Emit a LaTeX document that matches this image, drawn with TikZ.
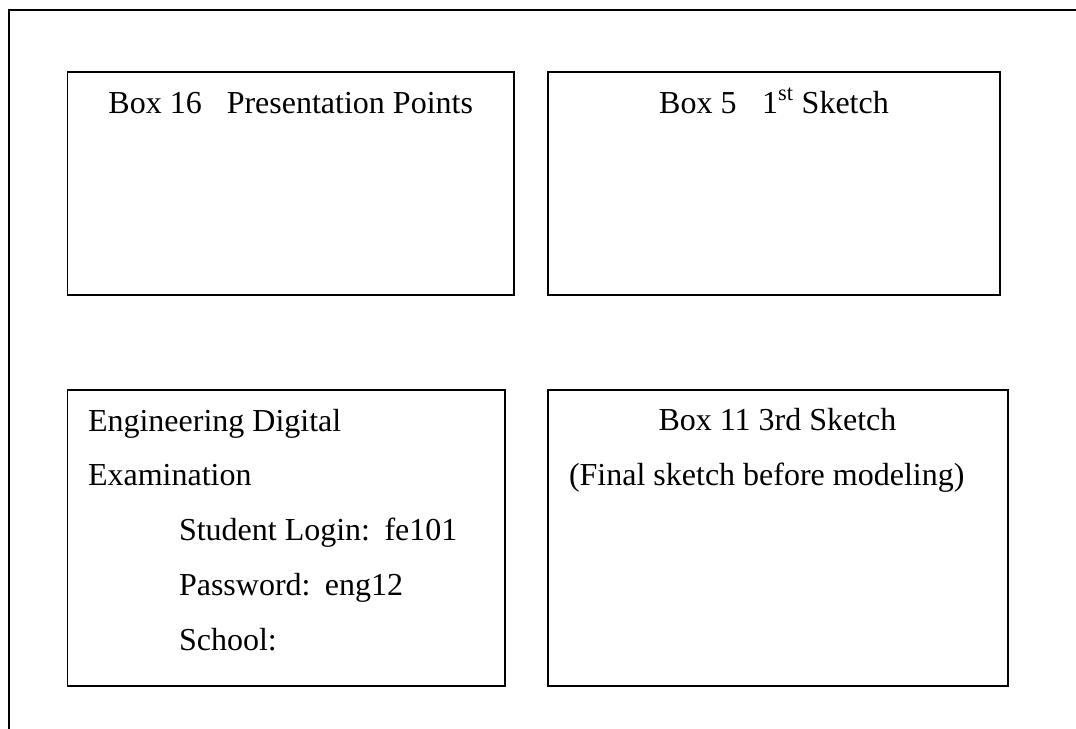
\documentclass[tikz,border=0pt]{standalone}
\usepackage{fontspec}
\setmainfont{Liberation Serif}
\begin{document}
\begin{tikzpicture}[x=0.75pt,y=-0.75pt,
  box/.style={draw=black,line width=1pt,rectangle,inner sep=0pt,outer sep=0pt},
  lbl/.style={inner sep=0pt,outer sep=0pt,font=\fontsize{24}{28}\selectfont},
  frame/.style={draw=black,line width=1pt}]
\useasboundingbox (0,0) rectangle (1076,729);
% outer frame
\coordinate (fbl) at (9,729);
\coordinate (ftl) at (9,10);
\coordinate (ftr) at (1076,10);
\draw[frame] (fbl) -- (ftl) -- (ftr);
% boxes
\node[box,minimum width=334.9pt,minimum height=167.25pt] (b16) at (290.75,183.5) {};
\node[box,minimum width=339pt,minimum height=167.25pt] (b5) at (774,183.5) {};
\node[box,minimum width=328.1pt,minimum height=222pt] (bex) at (286.25,538) {};
\node[box,minimum width=345pt,minimum height=222pt] (b11) at (778,538) {};
% texts
\node[lbl,anchor=base] (t16) at (290.75,113) {Box 16\hspace{0.78em}Presentation Points};
\node[lbl,anchor=base] (t5) at (774,113) {Box 5\hspace{0.8em}1\textsuperscript{st} Sketch};
\node[lbl,anchor=base west] (e1) at (88,431) {Engineering Digital};
\node[lbl,anchor=base west] (e2) at (88,485.5) {Examination};
\node[lbl,anchor=base west] (e3) at (179,540) {Student Login:\hspace{0.45em}fe101};
\node[lbl,anchor=base west] (e4) at (179,595) {Password:\hspace{0.45em}eng12};
\node[lbl,anchor=base west] (e5) at (179,650) {School:};
\node[lbl,anchor=base] (t11) at (777.5,430) {Box 11 3rd Sketch};
\node[lbl,anchor=base west] (t11b) at (569,485) {(Final sketch before modeling)};
\end{tikzpicture}
\end{document}
